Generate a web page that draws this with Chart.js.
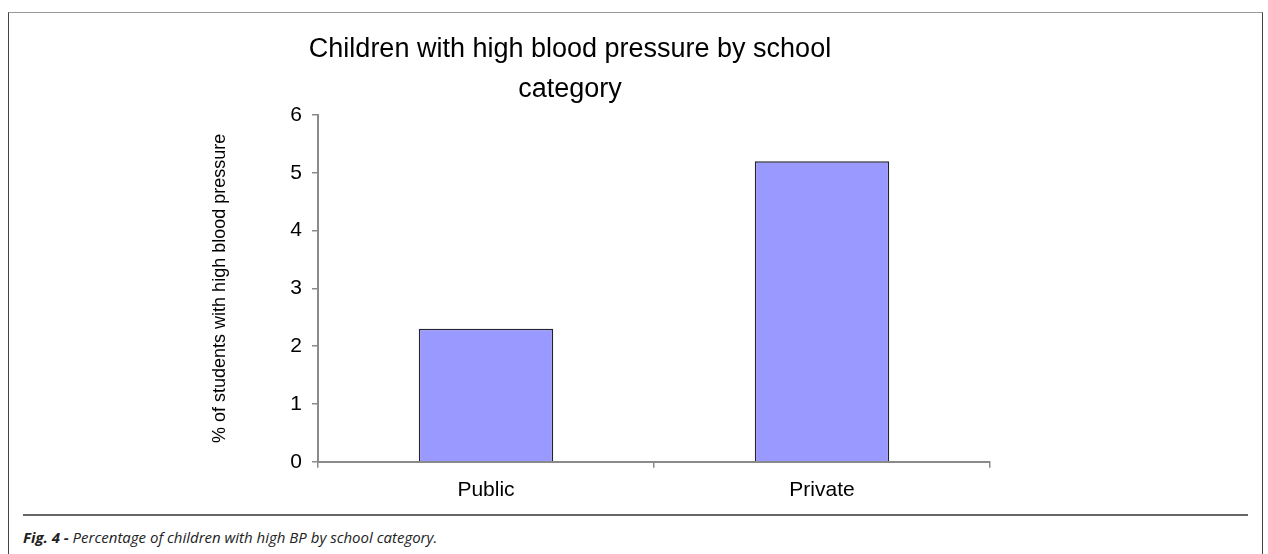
<!DOCTYPE html>
<html>
<head>
<meta charset="utf-8">
<script src="https://cdn.jsdelivr.net/npm/chart.js@4.4.1/dist/chart.umd.min.js"></script>
<style>
  body { margin: 0; background: #fff; width: 1268px; height: 554px; overflow: hidden; position: relative; }
  #frame {
    position: absolute; left: 8px; top: 12px; width: 1253px; height: 560px;
    border-left: 1px solid #444; border-right: 1px solid #444; border-top: 1px solid #999;
  }
  #holder { position: absolute; left: 100px; top: 20px; width: 900px; height: 493px; }
  #rule { position: absolute; left: 23px; top: 514px; width: 1225px; height: 0; border-top: 2px solid #666; }
  #caption {
    position: absolute; left: 23px; top: 527px;
    font-family: "Open Sans", "Noto Sans", sans-serif; font-style: italic; font-size: 15px; color: #222;
  }
  #caption b { font-weight: 700; }
</style>
</head>
<body>
<div id="frame"></div>
<div id="holder"><canvas id="myChart"></canvas></div>
<div id="rule"></div>
<div id="caption"><b>Fig. 4 -</b> Percentage of children with high BP by school category.</div>

<script>
'use strict'
// dane wykresu
var categories = ['Public', 'Private']
var percentages = [2.3, 5.2]
var yTicks = [0, 1, 2, 3, 4, 5, 6]
var chartTitle = ['Children with high blood pressure by school', 'category']
var yTitle = '% of students with high blood pressure'

var axisGray = '#8a8a8a'

var ctx = document.getElementById('myChart').getContext('2d')
var chart = new Chart(ctx, {
  type: 'bar',
  data: {
    labels: categories,
    datasets: [{
      data: percentages,
      backgroundColor: '#9999FF',
      borderColor: '#222230',
      borderWidth: 1.5,
      barPercentage: 0.4,
      categoryPercentage: 1
    }]
  },
  options: {
    responsive: true,
    maintainAspectRatio: false,
    animation: false,
    layout: { padding: { left: 50, right: 10, top: 0, bottom: 0 } },
    plugins: {
      legend: { display: false },
      tooltip: { enabled: false },
      title: {
        display: true,
        text: chartTitle,
        color: '#000',
        font: { family: 'Liberation Sans', size: 27, weight: 'normal', lineHeight: 1.48 },
        padding: { top: 10, bottom: 5 }
      }
    },
    scales: {
      x: {
        offset: true,
        grid: { offset: true, drawOnChartArea: false, drawTicks: true, tickLength: 6, color: axisGray, lineWidth: 1.5 },
        border: { color: axisGray, width: 2 },
        ticks: { color: '#000', padding: 10, font: { family: 'Liberation Sans', size: 21 } }
      },
      y: {
        min: 0,
        max: 6,
        afterBuildTicks: function(scale) {
          scale.ticks = yTicks.map(function(v) { return { value: v } })
        },
        afterFit: function(scale) { scale.width = 168 },
        grid: { drawOnChartArea: false, drawTicks: true, tickLength: 6, color: axisGray, lineWidth: 1.5 },
        border: { color: axisGray, width: 2 },
        ticks: { color: '#000', padding: 10, font: { family: 'Liberation Sans', size: 21 } },
        title: {
          display: true,
          text: yTitle,
          color: '#000',
          padding: { top: 59, bottom: 0 },
          font: { family: 'Liberation Sans', size: 18, lineHeight: 1.2 }
        }
      }
    }
  }
})
</script>
</body>
</html>
